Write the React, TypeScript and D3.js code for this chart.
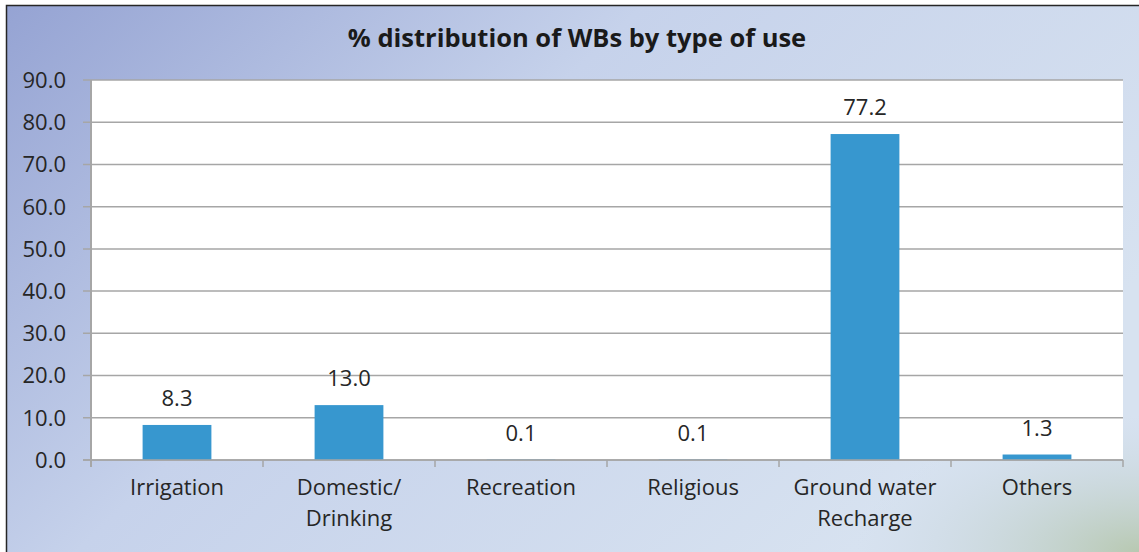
import { useEffect, useRef } from "react";
import * as d3 from "d3";

const categories = ["Irrigation", "Domestic/\nDrinking", "Recreation", "Religious", "Ground water\nRecharge", "Others"];
const values = [8.3, 13.0, 0.1, 0.1, 77.2, 1.3];
const yTicks = [0, 10, 20, 30, 40, 50, 60, 70, 80, 90];
const title = "% distribution of WBs by type of use";

export default function App() {
  const svgRef = useRef<SVGSVGElement>(null);

  useEffect(() => {
    if (!svgRef.current) return;
    d3.select(svgRef.current).selectAll("*").remove();

    const width = 1139;
    const height = 552;
    const margin = { top: 80, right: 16, bottom: 92, left: 91 };
    const font = "'Open Sans', 'DejaVu Sans', sans-serif";

    const svg = d3.select(svgRef.current)
      .attr("width", width)
      .attr("height", height)
      .attr("viewBox", `0 0 ${width} ${height}`)
      .style("font-family", font);

    const defs = svg.append("defs");
    const lg = defs.append("linearGradient").attr("id", "bg")
      .attr("x1", 0).attr("y1", 0).attr("x2", 1).attr("y2", 0.5);
    lg.append("stop").attr("offset", 0).attr("stop-color", "#95a3d3");
    lg.append("stop").attr("offset", 0.45).attr("stop-color", "#c6d2eb");
    lg.append("stop").attr("offset", 1).attr("stop-color", "#d7e2f0");
    const rg = defs.append("radialGradient").attr("id", "glow")
      .attr("cx", 1).attr("cy", 1).attr("r", 0.25);
    rg.append("stop").attr("offset", 0).attr("stop-color", "#b2c4a6").attr("stop-opacity", 0.85);
    rg.append("stop").attr("offset", 1).attr("stop-color", "#c8d6e2").attr("stop-opacity", 0);

    // background panel + border
    svg.append("rect").attr("x", 6).attr("y", 5).attr("width", width - 6).attr("height", height - 5)
      .attr("fill", "url(#bg)");
    svg.append("rect").attr("x", 6).attr("y", 5).attr("width", width - 6).attr("height", height - 5)
      .attr("fill", "url(#glow)");
    svg.append("path").attr("d", `M6.5,${height} V5.5 H${width}`)
      .attr("fill", "none").attr("stroke", "#262626").attr("stroke-width", 1.5);

    const innerW = width - margin.left - margin.right;
    const innerH = height - margin.top - margin.bottom;

    const x = d3.scaleBand<string>().domain(categories).range([0, innerW])
      .paddingInner(0.6).paddingOuter(0.3);
    const y = d3.scaleLinear().domain([0, 90]).range([innerH, 0]);

    svg.append("text")
      .attr("x", 577).attr("y", 47)
      .attr("text-anchor", "middle")
      .style("font-size", "25.5px").style("font-weight", "bold").style("fill", "#1a1a1a")
      .text(title);

    const g = svg.append("g").attr("transform", `translate(${margin.left},${margin.top})`);

    g.append("rect").attr("width", innerW).attr("height", innerH).attr("fill", "#ffffff");

    // gridlines + y ticks
    g.selectAll(".grid").data(yTicks).enter().append("line")
      .attr("x1", -8).attr("x2", innerW)
      .attr("y1", d => y(d)).attr("y2", d => y(d))
      .attr("stroke", "#a6a6a6").attr("stroke-width", 1.5);
    g.selectAll(".ylab").data(yTicks).enter().append("text")
      .attr("x", -25).attr("y", d => y(d)).attr("dy", "0.36em")
      .attr("text-anchor", "end")
      .style("font-size", "22px").style("fill", "#262626")
      .text(d => d3.format(".1f")(d));

    // y axis line
    g.append("line").attr("x1", 0).attr("x2", 0).attr("y1", 0).attr("y2", innerH + 7)
      .attr("stroke", "#a6a6a6").attr("stroke-width", 2);

    // x ticks at category boundaries
    const step = x.step();
    g.selectAll(".xt").data(d3.range(categories.length + 1)).enter().append("line")
      .attr("x1", i => i * step).attr("x2", i => i * step)
      .attr("y1", innerH).attr("y2", innerH + 7)
      .attr("stroke", "#a6a6a6").attr("stroke-width", 1.5);

    // bars
    g.selectAll(".bar").data(values).enter().append("rect")
      .attr("x", (_, i) => x(categories[i])!)
      .attr("width", x.bandwidth())
      .attr("y", d => y(d))
      .attr("height", d => innerH - y(d))
      .attr("fill", "#3797cf");

    // baseline
    g.append("line").attr("x1", -8).attr("x2", innerW).attr("y1", innerH).attr("y2", innerH)
      .attr("stroke", "#a6a6a6").attr("stroke-width", 1.5);

    // value labels
    g.selectAll(".val").data(values).enter().append("text")
      .attr("x", (_, i) => x(categories[i])! + x.bandwidth() / 2)
      .attr("y", d => y(d) - 19)
      .attr("text-anchor", "middle")
      .style("font-size", "22px").style("fill", "#262626")
      .text(d => d3.format(".1f")(d));

    // category labels
    categories.forEach((c, i) => {
      const t = g.append("text")
        .attr("x", x(c)! + x.bandwidth() / 2)
        .attr("y", innerH + 35)
        .attr("text-anchor", "middle")
        .style("font-size", "22px").style("fill", "#262626");
      c.split("\n").forEach((line, j) => {
        t.append("tspan").attr("x", x(c)! + x.bandwidth() / 2).attr("dy", j === 0 ? 0 : 31).text(line);
      });
    });
  }, []);

  return (
    <div style={{ position: "absolute", left: 0, top: 0 }}>
      <svg ref={svgRef} style={{ display: "block" }}></svg>
    </div>
  );
}
